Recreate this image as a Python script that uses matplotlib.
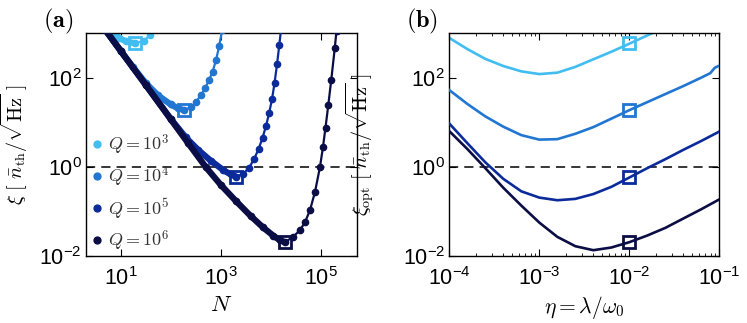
import matplotlib
matplotlib.use("Agg")
import matplotlib.pyplot as plt
from matplotlib.ticker import LogLocator, NullLocator, NullFormatter
import numpy as np

plt.rcParams['font.family'] = ['Liberation Sans', 'DejaVu Sans']
plt.rcParams['mathtext.fontset'] = 'cm'

# Colours for Q = 1e3, 1e4, 1e5, 1e6
COLORS = ['#41BDF2', '#2176D2', '#0B2B9B', '#0B0D45']
Q_LABELS = [r'$Q = 10^3$', r'$Q = 10^4$', r'$Q = 10^5$', r'$Q = 10^6$']

# ---- panel (a): xi vs N ----
N_q3 = [6.03, 6.92, 9.33, 12.9, 19.5, 29.5, 38.0, 42.7]
xi_q3 = [1259, 1000, 776, 646, 589, 676, 891, 1148]

N_q4 = [5.01, 10, 17.8, 31.6, 56.2, 100, 141, 186, 251, 324, 407, 490, 589, 692, 813, 933, 1072]
xi_q4 = [1148, 398, 170, 75.9, 39.8, 25.1, 20.4, 18.6, 21.4, 28.8, 40.7, 57.5, 89.1, 135,
         251, 501, 1148]

N_q5 = [5.01, 10, 31.6, 100, 200, 355, 631, 1122, 1585, 2040, 2818, 3715, 4677, 5754,
        6918, 8128, 9333, 10720, 12020, 13490, 14960, 16220]
xi_q5 = [1148, 398, 69.2, 12.0, 4.57, 2.40, 1.38, 0.851, 0.676, 0.603, 0.692, 0.955, 1.48,
         2.51, 4.47, 8.32, 15.8, 33.1, 75.9, 200, 537, 1202]

N_q6 = [5.01, 10, 31.6, 100, 224, 501, 1000, 1995, 3981, 7079, 11220, 15490, 19500, 28180,
        38900, 48980, 61660, 77620, 97720, 112200, 125900, 142900, 164100, 192800, 208900]
xi_q6 = [1148, 398, 69.2, 11.7, 3.39, 1.0, 0.398, 0.174, 0.0794, 0.0437, 0.0288, 0.0224,
         0.0204, 0.0269, 0.038, 0.0575, 0.107, 0.275, 1.0, 2.82, 7.59, 24.0, 89.1, 457, 1122]

N_opt = [19.5, 186, 2040, 19500]
xi_min = [589, 18.6, 0.60, 0.0204]

# ---- panel (b): xi_opt vs eta ----
eta_q3 = [1.0e-4, 1.585e-4, 2.512e-4, 3.981e-4, 6.310e-4, 1.0e-3, 1.585e-3, 2.512e-3,
          3.981e-3, 6.310e-3, 1.0e-2, 1.413e-2, 1.905e-2]
xo_q3 = [776, 437, 263, 182, 138, 120, 129, 174, 257, 380, 575, 794, 1047]

eta_q4 = [1.0e-4, 1.585e-4, 2.512e-4, 3.981e-4, 6.310e-4, 1.0e-3, 1.585e-3, 2.512e-3,
          3.981e-3, 6.310e-3, 1.0e-2, 1.585e-2, 2.512e-2, 3.981e-2, 6.310e-2, 7.943e-2,
          8.913e-2, 1.0e-1]
xo_q4 = [52.5, 25.7, 13.5, 7.94, 5.13, 4.07, 4.17, 5.50, 7.76, 12.0, 18.6, 28.2, 42.7,
         64.6, 100, 126, 166, 186]

eta_q5 = [1.0e-4, 1.585e-4, 2.512e-4, 3.981e-4, 6.310e-4, 1.0e-3, 1.585e-3, 2.512e-3,
          3.981e-3, 6.310e-3, 1.0e-2, 1.585e-2, 2.512e-2, 3.981e-2, 6.310e-2, 1.0e-1]
xo_q5 = [9.33, 3.39, 1.26, 0.537, 0.282, 0.204, 0.178, 0.191, 0.245, 0.355, 0.575, 0.933,
         1.48, 2.40, 3.80, 6.17]

eta_q6 = [1.0e-4, 1.585e-4, 2.512e-4, 3.981e-4, 6.310e-4, 1.0e-3, 1.585e-3, 2.512e-3,
          3.981e-3, 6.310e-3, 1.0e-2, 1.585e-2, 2.512e-2, 3.981e-2, 6.310e-2, 1.0e-1]
xo_q6 = [6.31, 2.51, 0.933, 0.339, 0.135, 0.0562, 0.0269, 0.0166, 0.0135, 0.0155, 0.0204,
         0.0288, 0.0427, 0.0692, 0.112, 0.186]

eta_mark = 1e-2

panel_a = [(N_q3, xi_q3), (N_q4, xi_q4), (N_q5, xi_q5), (N_q6, xi_q6)]
panel_b = [(eta_q3, xo_q3), (eta_q4, xo_q4), (eta_q5, xo_q5), (eta_q6, xo_q6)]

FS = 15.5

fig = plt.figure(figsize=(7.47, 3.23), dpi=100)
ax1 = fig.add_axes([0.1151, 0.2074, 0.3628, 0.6904])
ax2 = fig.add_axes([0.6015, 0.2074, 0.3614, 0.6904])

# panel (a): dense dots on the falling side look like a thick band
for i, (x, y) in enumerate(panel_a):
    k = int(np.argmin(y))
    ax1.plot(x[:k + 1], y[:k + 1], '-', color=COLORS[i], lw=4.5,
             solid_capstyle='round', solid_joinstyle='round', zorder=2 + i)
    ax1.plot(x, y, '-', color=COLORS[i], lw=1.6, zorder=2 + i)
    ax1.plot(x, y, 'o', color=COLORS[i], ms=4.5, ls='none', zorder=2 + i, label=Q_LABELS[i])
    ax1.plot(N_opt[i], xi_min[i], 's', mfc='none', mec=COLORS[i], mew=2, ms=9, zorder=10)

ax1.axhline(1.0, color='k', ls='--', lw=1.1, dashes=(6, 4), zorder=1)
ax1.set_xscale('log')
ax1.set_yscale('log')
ax1.set_xlim(10**0.306, 10**5.73)
ax1.set_ylim(1e-2, 1e3)
ax1.set_xticks([1e1, 1e3, 1e5])
ax1.set_yticks([1e-2, 1e0, 1e2])
ax1.xaxis.set_minor_locator(NullLocator())
ax1.yaxis.set_minor_locator(NullLocator())
ax1.set_xlabel(r'$N$', fontsize=FS + 1, labelpad=2)
ax1.set_ylabel(r'$\xi\ [\ \bar{n}_{\rm th}/\sqrt{\rm Hz}\ ]$', fontsize=FS - 1)
ax1.yaxis.set_label_coords(-0.207, 0.5)

leg = ax1.legend(loc='lower left', bbox_to_anchor=(-0.04, -0.06), frameon=False,
                 fontsize=13, handlelength=0.6, handletextpad=0.3, labelspacing=0.42,
                 markerscale=1.1)
for t in leg.get_texts():
    t.set_color('#333333')

# panel (b)
for i, (x, y) in enumerate(panel_b):
    ax2.plot(x, y, '-', color=COLORS[i], lw=1.9, zorder=2 + i)
    ax2.plot(eta_mark, xi_min[i], 's', mfc='none', mec=COLORS[i], mew=2, ms=9, zorder=10)

ax2.axhline(1.0, color='k', ls='--', lw=1.1, dashes=(6, 4), zorder=1)
ax2.set_xscale('log')
ax2.set_yscale('log')
ax2.set_xlim(1e-4, 1e-1)
ax2.set_ylim(1e-2, 1e3)
ax2.set_xticks([1e-4, 1e-3, 1e-2, 1e-1])
ax2.xaxis.set_minor_locator(LogLocator(base=10, subs=np.arange(2, 10)))
ax2.xaxis.set_minor_formatter(NullFormatter())
ax2.set_yticks([1e-2, 1e0, 1e2])
ax2.yaxis.set_minor_locator(NullLocator())
ax2.set_xlabel(r'$\eta = \lambda/\omega_0$', fontsize=FS, labelpad=3)
ax2.set_ylabel(r'$\xi_{\rm opt}\ [\ \bar{n}_{\rm th}/\sqrt{\rm Hz}\ ]$', fontsize=FS - 1)
ax2.yaxis.set_label_coords(-0.27, 0.5)

for ax in (ax1, ax2):
    ax.tick_params(which='both', direction='in', top=True, right=True, labelsize=FS)
    ax.tick_params(axis='x', which='both', pad=8)
    ax.tick_params(axis='y', which='both', pad=3)
    ax.tick_params(which='major', length=5, width=0.8)
    ax.tick_params(which='minor', length=2.5, width=0.6)
    for s in ax.spines.values():
        s.set_linewidth(1.0)

fig.text(0.057, 0.935, r'$\mathbf{(a)}$', fontsize=FS + 2, ha='left', va='center')
fig.text(0.544, 0.935, r'$\mathbf{(b)}$', fontsize=FS + 2, ha='left', va='center')

fig.savefig('out.png', dpi=100)
